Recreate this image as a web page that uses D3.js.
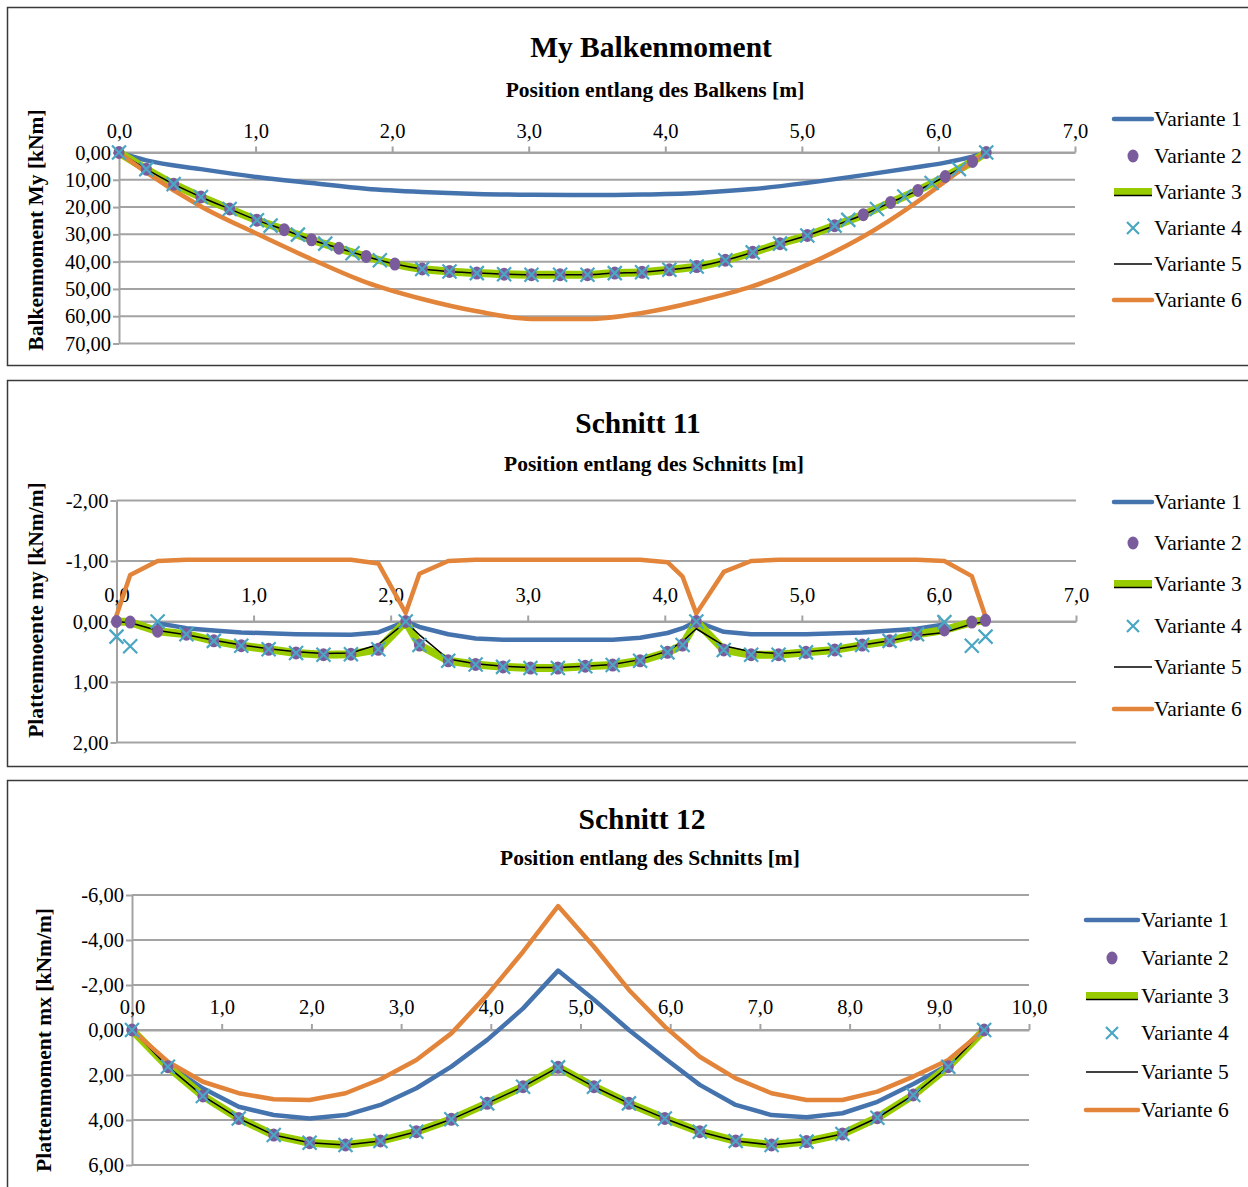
<!DOCTYPE html>
<html>
<head>
<meta charset="utf-8">
<script src="https://cdn.jsdelivr.net/npm/d3@7"></script>
<style>
  body { margin: 0; background: #fff; }
  svg { display: block; font-family: "Liberation Serif", "Times New Roman", serif; }
</style>
</head>
<body>
<svg id="chart" width="1248" height="1187"></svg>
<script>
// ---------------- data ----------------
const seriesNames = ["Variante 1", "Variante 2", "Variante 3", "Variante 4", "Variante 5", "Variante 6"];

// My Balkenmoment – moment along the beam [kNm]
const myXTicks = [0, 1, 2, 3, 4, 5, 6, 7];
const myYTicks = [0, 10, 20, 30, 40, 50, 60, 70];
const myPosA = [0, 0.20, 0.40, 0.60, 0.81, 1.01, 1.21, 1.41, 1.61, 1.81, 2.02, 2.22, 2.42, 2.62, 2.82, 3.02, 3.23, 3.43, 3.63, 3.83, 4.03, 4.23, 4.44, 4.64, 4.84, 5.04, 5.24, 5.45, 5.65, 5.85, 6.05, 6.25, 6.35];
const myV2 = [0, 6.1, 11.6, 16.3, 20.7, 24.8, 28.3, 32.0, 35.1, 38.1, 40.9, 42.7, 43.6, 44.2, 44.6, 44.8, 44.8, 44.8, 44.2, 43.9, 43.0, 41.8, 39.5, 36.6, 33.4, 30.4, 26.8, 22.8, 18.3, 13.9, 8.8, 3.3, 0];
const myV3 = [0, 6.1, 11.6, 16.3, 20.7, 24.8, 28.3, 32.0, 35.1, 38.1, 40.9, 42.7, 43.6, 44.2, 44.6, 44.8, 44.8, 44.8, 44.2, 43.9, 43.0, 41.8, 39.5, 36.6, 33.4, 30.4, 26.8, 22.8, 18.3, 13.9, 8.8, 3.3, 0];
const myV5 = [0, 6.1, 11.6, 16.3, 20.7, 24.8, 28.3, 32.0, 35.1, 38.1, 40.9, 42.7, 43.6, 44.2, 44.6, 44.8, 44.8, 44.8, 44.2, 43.9, 43.0, 41.8, 39.5, 36.6, 33.4, 30.4, 26.8, 22.8, 18.3, 13.9, 8.8, 3.3, 0];
const myPosB = [0, 0.20, 0.40, 0.60, 0.81, 1.01, 1.11, 1.31, 1.51, 1.71, 1.91, 2.22, 2.42, 2.62, 2.82, 3.02, 3.23, 3.43, 3.63, 3.83, 4.03, 4.23, 4.44, 4.64, 4.84, 5.04, 5.24, 5.34, 5.55, 5.75, 5.95, 6.15, 6.35];
const myV4 = [0, 6.1, 11.6, 16.3, 20.7, 24.8, 26.8, 30.1, 33.4, 36.9, 39.5, 42.7, 43.6, 44.2, 44.6, 44.8, 44.8, 44.8, 44.2, 43.9, 43.0, 41.8, 39.5, 36.6, 33.4, 30.4, 26.8, 24.7, 20.7, 16.1, 11.2, 6.1, 0];
const myPosC = [0, 0.20, 0.60, 1.01, 1.41, 1.81, 2.22, 2.62, 3.02, 3.43, 3.83, 4.23, 4.64, 5.04, 5.45, 5.85, 6.05, 6.25, 6.35];
const myV1 = [0, 2.9, 6.1, 9.0, 11.2, 13.3, 14.5, 15.2, 15.5, 15.6, 15.4, 14.8, 13.4, 11.1, 8.3, 5.3, 3.7, 1.5, 0];
const myV6 = [0, 7.3, 19.8, 29.8, 39.1, 47.6, 53.7, 58.2, 61.0, 61.0, 58.8, 54.6, 49.0, 41.1, 30.8, 17.9, 10.6, 3.3, 0];

// Schnitt 11 – plate moment my [kNm/m]
const s11XTicks = [0, 1, 2, 3, 4, 5, 6, 7];
const s11YTicks = [-2, -1, 0, 1, 2];
const s11Pos = [0, 0.10, 0.30, 0.51, 0.71, 0.91, 1.11, 1.31, 1.51, 1.71, 1.91, 2.11, 2.21, 2.42, 2.62, 2.82, 3.02, 3.22, 3.42, 3.62, 3.82, 4.02, 4.13, 4.23, 4.43, 4.63, 4.83, 5.03, 5.24, 5.44, 5.64, 5.84, 6.04, 6.24, 6.34];
const s11V2 = [0, 0.01, 0.16, 0.21, 0.32, 0.40, 0.46, 0.52, 0.55, 0.54, 0.46, 0, 0.39, 0.65, 0.71, 0.75, 0.77, 0.77, 0.74, 0.72, 0.65, 0.51, 0.39, 0, 0.47, 0.55, 0.55, 0.51, 0.47, 0.39, 0.32, 0.21, 0.14, 0.01, -0.02];
const s11V3 = [0, 0.01, 0.16, 0.21, 0.32, 0.40, 0.46, 0.52, 0.55, 0.54, 0.46, 0, 0.39, 0.65, 0.71, 0.75, 0.77, 0.77, 0.74, 0.72, 0.65, 0.51, 0.39, 0, 0.47, 0.55, 0.55, 0.51, 0.47, 0.39, 0.32, 0.21, 0.14, 0.01, -0.02];
const s11V4 = [0.25, 0.41, 0.0, 0.21, 0.32, 0.40, 0.46, 0.52, 0.55, 0.54, 0.46, 0, 0.39, 0.65, 0.71, 0.75, 0.77, 0.77, 0.74, 0.72, 0.65, 0.51, 0.39, 0, 0.47, 0.55, 0.55, 0.51, 0.47, 0.39, 0.32, 0.21, 0.01, 0.40, 0.25];
const s11V5 = [0, 0.02, 0.15, 0.22, 0.31, 0.39, 0.45, 0.50, 0.53, 0.52, 0.38, 0.01, 0.22, 0.62, 0.70, 0.74, 0.76, 0.76, 0.74, 0.71, 0.63, 0.49, 0.33, 0.12, 0.40, 0.50, 0.53, 0.50, 0.46, 0.39, 0.32, 0.23, 0.18, 0.04, 0];
const s11V6 = [-0.10, -0.77, -1.00, -1.02, -1.02, -1.02, -1.02, -1.02, -1.02, -1.02, -0.96, -0.14, -0.79, -1.00, -1.02, -1.02, -1.02, -1.02, -1.02, -1.02, -1.02, -0.98, -0.74, -0.13, -0.82, -1.00, -1.02, -1.02, -1.02, -1.02, -1.02, -1.02, -1.00, -0.75, -0.08];
const s11PosV1 = [0.30, 0.51, 0.71, 0.91, 1.31, 1.71, 1.91, 2.11, 2.21, 2.42, 2.62, 2.82, 3.22, 3.62, 3.82, 4.02, 4.13, 4.23, 4.43, 4.63, 5.03, 5.44, 5.84, 6.04];
const s11V1 = [0.03, 0.11, 0.15, 0.18, 0.21, 0.22, 0.18, 0, 0.09, 0.21, 0.28, 0.30, 0.30, 0.30, 0.27, 0.19, 0.11, 0, 0.17, 0.21, 0.21, 0.18, 0.12, 0.05];

// Schnitt 12 – plate moment mx [kNm/m]
const s12XTicks = [0, 1, 2, 3, 4, 5, 6, 7, 8, 9, 10];
const s12YTicks = [-6, -4, -2, 0, 2, 4, 6];
const s12Pos = [0, 0.40, 0.79, 1.19, 1.58, 1.98, 2.38, 2.77, 3.17, 3.56, 3.96, 4.36, 4.75, 5.15, 5.54, 5.94, 6.33, 6.73, 7.13, 7.52, 7.92, 8.31, 8.71, 9.10, 9.50];
const s12V1 = [0, 1.55, 2.59, 3.41, 3.78, 3.93, 3.78, 3.33, 2.59, 1.63, 0.44, -0.96, -2.64, -1.35, 0.0, 1.26, 2.44, 3.33, 3.78, 3.88, 3.70, 3.19, 2.40, 1.56, 0];
const s12V2 = [0, 1.63, 2.93, 3.93, 4.67, 5.01, 5.11, 4.93, 4.52, 3.97, 3.26, 2.52, 1.66, 2.52, 3.26, 3.93, 4.52, 4.93, 5.11, 4.96, 4.62, 3.90, 2.89, 1.63, 0];
const s12V3 = [0, 1.63, 2.93, 3.93, 4.67, 5.01, 5.11, 4.93, 4.52, 3.97, 3.26, 2.52, 1.66, 2.52, 3.26, 3.93, 4.52, 4.93, 5.11, 4.96, 4.62, 3.90, 2.89, 1.63, 0];
const s12V4 = [0, 1.63, 2.93, 3.93, 4.67, 5.01, 5.11, 4.93, 4.52, 3.97, 3.26, 2.52, 1.66, 2.52, 3.26, 3.93, 4.52, 4.93, 5.11, 4.96, 4.62, 3.90, 2.89, 1.63, 0];
const s12V5 = [0, 1.63, 2.93, 3.93, 4.67, 5.01, 5.11, 4.93, 4.52, 3.97, 3.26, 2.52, 1.66, 2.52, 3.26, 3.93, 4.52, 4.93, 5.11, 4.96, 4.62, 3.90, 2.89, 1.63, 0];
const s12V6 = [0, 1.41, 2.30, 2.81, 3.08, 3.11, 2.81, 2.19, 1.33, 0.15, -1.56, -3.48, -5.51, -3.70, -1.78, -0.15, 1.19, 2.15, 2.81, 3.11, 3.11, 2.74, 2.07, 1.33, 0];

// ---------------- styling ----------------
const C = { blue: "#4573ad", purple: "#7a5c9c", green: "#99cc00", aqua: "#4aa6c2", black: "#000", orange: "#e2843a" };
const GRID = "#a3a3a3";
const FONT_TICK = 20.5, FONT_LEGEND = 21.5, FONT_AXIS = 21.5, FONT_TITLE = 29.5;
const locale = d3.formatLocale({ decimal: ",", thousands: ".", grouping: [3], currency: ["", "€"], minus: "-" });
const fmtX = locale.format(".1f");
const fmtY = locale.format(".2f");

const svg = d3.select("#chart");

function drawPanel(cfg) {
  const g = svg.append("g");

  // outer frame
  g.append("rect")
    .attr("x", cfg.frame[0] + 0.5).attr("y", cfg.frame[1] + 0.5)
    .attr("width", cfg.frame[2]).attr("height", cfg.frame[3])
    .attr("fill", "#fff").attr("stroke", "#3a3a3a").attr("stroke-width", 1.5);

  const x = d3.scaleLinear().domain(d3.extent(cfg.xTicks)).range([cfg.plot.left, cfg.plot.right]);
  const y = d3.scaleLinear().domain(d3.extent(cfg.yTicks)).range([cfg.plot.top, cfg.plot.bottom]);

  // horizontal gridlines
  g.append("g").selectAll("line").data(cfg.yTicks).join("line")
    .attr("x1", cfg.plot.left).attr("x2", cfg.plot.right)
    .attr("y1", d => y(d)).attr("y2", d => y(d))
    .attr("stroke", GRID).attr("stroke-width", 2);

  // value axis
  const ya = g.append("g").attr("transform", `translate(${cfg.plot.left},0)`)
    .call(d3.axisLeft(y).tickValues(cfg.yTicks).tickFormat(fmtY).tickSize(6).tickSizeOuter(0).tickPadding(2));
  // category axis on the zero line
  const xa = g.append("g").attr("transform", `translate(0,${y(0)})`)
    .call(d3.axisTop(x).tickValues(cfg.xTicks).tickFormat(fmtX).tickSize(6).tickSizeOuter(0).tickPadding(cfg.xPad));
  [ya, xa].forEach(a => {
    a.select(".domain").attr("stroke", GRID).attr("stroke-width", 2);
    a.selectAll(".tick line").attr("stroke", GRID).attr("stroke-width", 2);
    a.selectAll(".tick text").attr("fill", "#000").attr("font-size", FONT_TICK)
      .attr("font-family", "Liberation Serif, serif");
  });

  // titles
  g.append("text").attr("x", cfg.title[0]).attr("y", cfg.title[1])
    .attr("text-anchor", "middle").attr("dominant-baseline", "central")
    .attr("font-size", FONT_TITLE).attr("font-weight", "bold").text(cfg.titleText);
  g.append("text").attr("x", cfg.sub[0]).attr("y", cfg.sub[1])
    .attr("text-anchor", "middle").attr("dominant-baseline", "central")
    .attr("font-size", FONT_AXIS).attr("font-weight", "bold").text(cfg.subText);
  g.append("text").attr("transform", `translate(${cfg.yTitle[0]},${cfg.yTitle[1]}) rotate(-90)`)
    .attr("text-anchor", "middle").attr("dominant-baseline", "central")
    .attr("font-size", FONT_AXIS).attr("font-weight", "bold").text(cfg.yTitleText);

  const lineGen = d3.line().x(d => x(d[0])).y(d => y(d[1])).curve(cfg.curve);
  const s = cfg.series;

  // lines
  const lines = g.append("g").attr("fill", "none").attr("stroke-linejoin", "round").attr("stroke-linecap", "round");
  lines.append("path").attr("d", lineGen(d3.zip(s.x1, s.v1))).attr("stroke", C.blue).attr("stroke-width", 4.5);
  lines.append("path").attr("d", lineGen(d3.zip(s.x3, s.v3))).attr("stroke", C.green).attr("stroke-width", 8);
  lines.append("path").attr("d", lineGen(d3.zip(s.x5, s.v5))).attr("stroke", C.black).attr("stroke-width", 1.5);
  lines.append("path").attr("d", lineGen(d3.zip(s.x6, s.v6))).attr("stroke", C.orange).attr("stroke-width", 4.5);

  // markers
  g.append("g").selectAll("ellipse").data(d3.zip(s.x2, s.v2)).join("ellipse")
    .attr("cx", d => x(d[0])).attr("cy", d => y(d[1])).attr("rx", 5.5).attr("ry", 6.5)
    .attr("fill", C.purple);
  g.append("g").selectAll("path").data(d3.zip(s.x4, s.v4)).join("path")
    .attr("transform", d => `translate(${x(d[0])},${y(d[1])})`)
    .attr("d", "M-7,-7L7,7M-7,7L7,-7").attr("stroke", C.aqua).attr("stroke-width", 2.2).attr("fill", "none");

  // legend
  const L = cfg.legend;
  const lg = g.append("g");
  seriesNames.forEach((name, i) => {
    const yy = L.ys[i];
    const mid = (L.x1 + L.x2) / 2;
    if (i === 0) lg.append("line").attr("x1", L.x1).attr("x2", L.x2).attr("y1", yy).attr("y2", yy).attr("stroke", C.blue).attr("stroke-width", 4.5).attr("stroke-linecap", "round");
    if (i === 1) lg.append("ellipse").attr("cx", mid).attr("cy", yy).attr("rx", 5.5).attr("ry", 6.5).attr("fill", C.purple);
    if (i === 2) {
      lg.append("line").attr("x1", L.x1).attr("x2", L.x2).attr("y1", yy).attr("y2", yy).attr("stroke", C.green).attr("stroke-width", 8);
      lg.append("line").attr("x1", L.x1).attr("x2", L.x2).attr("y1", yy + 3.5).attr("y2", yy + 3.5).attr("stroke", "#000").attr("stroke-width", 1.5);
    }
    if (i === 3) lg.append("path").attr("transform", `translate(${mid},${yy})`).attr("d", "M-6,-6L6,6M-6,6L6,-6").attr("stroke", C.aqua).attr("stroke-width", 2.2);
    if (i === 4) lg.append("line").attr("x1", L.x1).attr("x2", L.x2).attr("y1", yy).attr("y2", yy).attr("stroke", "#000").attr("stroke-width", 1.5);
    if (i === 5) lg.append("line").attr("x1", L.x1).attr("x2", L.x2).attr("y1", yy).attr("y2", yy).attr("stroke", C.orange).attr("stroke-width", 4.5).attr("stroke-linecap", "round");
    lg.append("text").attr("x", L.tx).attr("y", yy).attr("dominant-baseline", "central")
      .attr("font-size", FONT_LEGEND).text(name);
  });
}

drawPanel({
  frame: [7, 7, 1260, 358],
  plot: { left: 119, right: 1075, top: 152.5, bottom: 343.5 },
  xTicks: myXTicks, yTicks: myYTicks, xPad: 9,
  title: [651, 47], titleText: "My Balkenmoment",
  sub: [655, 90], subText: "Position entlang des Balkens [m]",
  yTitle: [36, 230], yTitleText: "Balkenmoment My [kNm]",
  curve: d3.curveMonotoneX,
  series: { x1: myPosC, v1: myV1, x2: myPosA, v2: myV2, x3: myPosA, v3: myV3, x4: myPosB, v4: myV4, x5: myPosA, v5: myV5, x6: myPosC, v6: myV6 },
  legend: { x1: 1114, x2: 1152, tx: 1154, ys: [119, 156, 192, 228, 264, 300] }
});

drawPanel({
  frame: [7, 380, 1260, 386],
  plot: { left: 116.5, right: 1076, top: 500.5, bottom: 742.5 },
  xTicks: s11XTicks, yTicks: s11YTicks, xPad: 14,
  title: [638, 423], titleText: "Schnitt 11",
  sub: [654, 464], subText: "Position entlang des Schnitts [m]",
  yTitle: [36, 610], yTitleText: "Plattenmoente my [kNm/m]",
  curve: d3.curveLinear,
  series: { x1: s11PosV1, v1: s11V1, x2: s11Pos, v2: s11V2, x3: s11Pos, v3: s11V3, x4: s11Pos, v4: s11V4, x5: s11Pos, v5: s11V5, x6: s11Pos, v6: s11V6 },
  legend: { x1: 1114, x2: 1152, tx: 1154, ys: [502, 543, 584, 626, 667, 709] }
});

drawPanel({
  frame: [7, 780, 1260, 430],
  plot: { left: 132, right: 1029, top: 895, bottom: 1165 },
  xTicks: s12XTicks, yTicks: s12YTicks, xPad: 10,
  title: [642, 819], titleText: "Schnitt 12",
  sub: [650, 858], subText: "Position entlang des Schnitts [m]",
  yTitle: [44, 1040], yTitleText: "Plattenmoment mx [kNm/m]",
  curve: d3.curveLinear,
  series: { x1: s12Pos, v1: s12V1, x2: s12Pos, v2: s12V2, x3: s12Pos, v3: s12V3, x4: s12Pos, v4: s12V4, x5: s12Pos, v5: s12V5, x6: s12Pos, v6: s12V6 },
  legend: { x1: 1086, x2: 1138, tx: 1141, ys: [920, 958, 996, 1033, 1072, 1110] }
});
</script>
</body>
</html>
